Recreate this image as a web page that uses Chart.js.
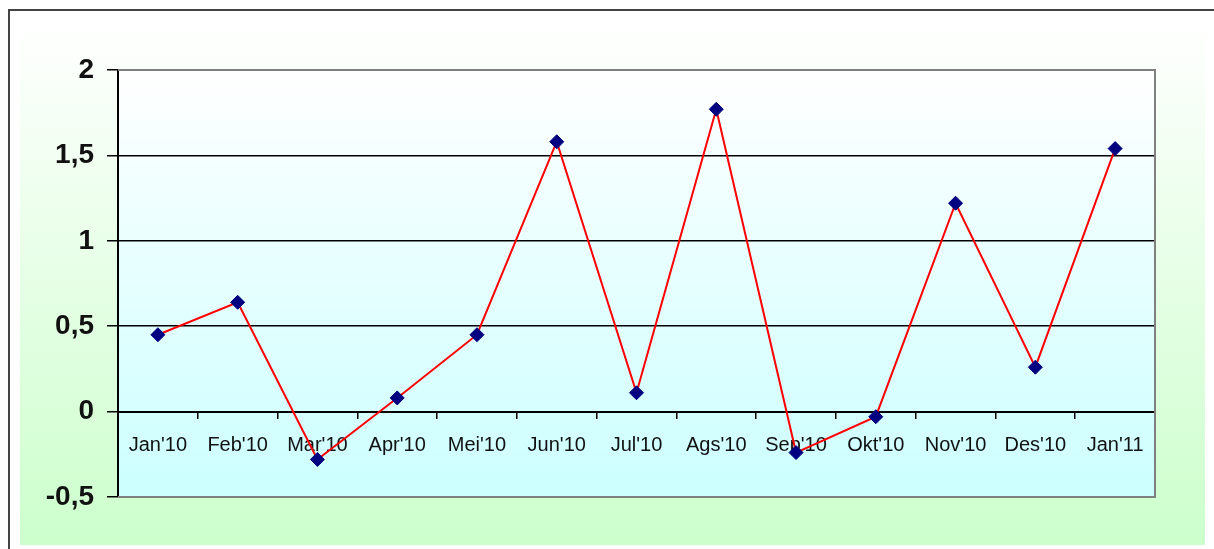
<!DOCTYPE html>
<html>
<head>
<meta charset="utf-8">
<script src="https://cdn.jsdelivr.net/npm/chart.js@4.4.1/dist/chart.umd.min.js"></script>
<style>
  html, body { margin: 0; padding: 0; background: #fff; }
  #wrap { width: 1214px; height: 549px; }
</style>
</head>
<body>
<div id="wrap"><canvas id="grafik" width="1214" height="549"></canvas></div>
<script>
  // ===== Data =====
  const bulan = ["Jan'10", "Feb'10", "Mar'10", "Apr'10", "Mei'10", "Jun'10", "Jul'10",
    "Ags'10", "Sep'10", "Okt'10", "Nov'10", "Des'10", "Jan'11"];
  const nilai = [0.45, 0.64, -0.28, 0.08, 0.45, 1.58, 0.11, 1.77, -0.24, -0.03, 1.22, 0.26, 1.54];
  const yTicks = [-0.5, 0, 0.5, 1, 1.5, 2];

  // background / frame, like the excel chart
  const latarPlugin = {
    id: "latar",
    beforeDraw(chart) {
      const ctx = chart.ctx;
      const a = chart.chartArea;
      ctx.save();
      // outer gradient
      let g = ctx.createLinearGradient(0, 20, 0, 545);
      g.addColorStop(0, "#ffffff");
      g.addColorStop(1, "#ccffcc");
      ctx.fillStyle = g;
      ctx.fillRect(20, 20, 1185, 525);
      // outer border (left & top)
      ctx.strokeStyle = "#444";
      ctx.lineWidth = 2;
      ctx.beginPath();
      ctx.moveTo(9, 549);
      ctx.lineTo(9, 10);
      ctx.lineTo(1214, 10);
      ctx.stroke();
      // plot area gradient
      g = ctx.createLinearGradient(0, a.top, 0, a.bottom);
      g.addColorStop(0, "#ffffff");
      g.addColorStop(1, "#ccffff");
      ctx.fillStyle = g;
      ctx.fillRect(a.left, a.top, a.right - a.left, a.bottom - a.top);
      ctx.restore();
    },
    beforeDatasetsDraw(chart) {
      const ctx = chart.ctx;
      const a = chart.chartArea;
      ctx.save();
      ctx.strokeStyle = "#808080";
      ctx.lineWidth = 2;
      ctx.beginPath();
      ctx.moveTo(a.left, a.top);
      ctx.lineTo(a.right, a.top);
      ctx.lineTo(a.right, a.bottom);
      ctx.lineTo(a.left, a.bottom);
      ctx.stroke();
      ctx.restore();
    },
  };

  new Chart(document.getElementById("grafik").getContext("2d"), {
    type: "line",
    data: {
      labels: bulan,
      datasets: [{
        data: nilai,
        borderColor: "#ff0000",
        borderWidth: 2,
        tension: 0,
        fill: false,
        pointStyle: "rectRot",
        pointRadius: 7,
        pointHoverRadius: 7,
        pointBorderWidth: 1,
        pointBorderColor: "#000080",
        pointBackgroundColor: "#000080",
      }],
    },
    options: {
      responsive: false,
      animation: false,
      events: [],
      layout: { padding: { top: 70, right: 59, bottom: 52, left: 0 } },
      plugins: { legend: { display: false }, tooltip: { enabled: false } },
      scales: {
        x: {
          type: "category",
          position: { y: 0 },
          offset: true,
          grid: {
            drawOnChartArea: false,
            drawTicks: true,
            tickLength: 6,
            offset: true,
            color: "#000",
            lineWidth: 1.5,
          },
          border: { display: true, color: "#000", width: 2 },
          ticks: {
            autoSkip: false,
            maxRotation: 0,
            padding: 16,
            color: "#111",
            font: { family: "Arial, 'Liberation Sans'", size: 20 },
          },
        },
        y: {
          min: -0.5,
          max: 2,
          afterFit: (s) => { s.width = 118; },
          afterBuildTicks: (s) => { s.ticks = yTicks.map((v) => ({ value: v })); },
          grid: {
            color: (c) => (c.tick && (c.tick.value === 2 || c.tick.value === -0.5)) ? "rgba(0,0,0,0)" : "#000",
            tickColor: "#000",
            lineWidth: 1.5,
            tickLength: 11,
          },
          border: { display: true, color: "#000", width: 2 },
          ticks: {
            padding: 13,
            color: "#111",
            font: { family: "Arial, 'Liberation Sans'", size: 28, weight: "bold" },
            callback: (v) => String(v).replace(".", ","),
          },
        },
      },
    },
    plugins: [latarPlugin],
  });
</script>
</body>
</html>
